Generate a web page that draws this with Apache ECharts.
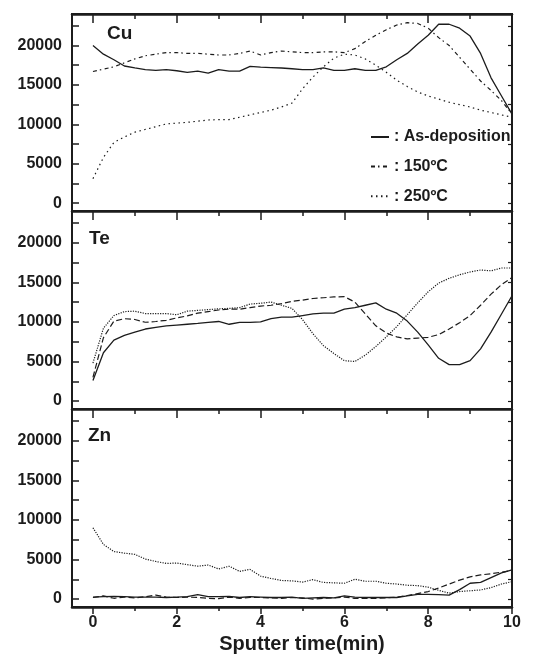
<!DOCTYPE html>
<html><head><meta charset="utf-8">
<script src="https://cdn.jsdelivr.net/npm/echarts@6/dist/echarts.min.js"></script>
<style>html,body{margin:0;padding:0;background:#fff}#c{width:537px;height:665px}</style>
</head><body><div id="c"></div>
<script>
// sputter time (min)
const times = [0,0.25,0.5,0.75,1,1.25,1.5,1.75,2,2.25,2.5,2.75,3,3.25,3.5,3.75,4,4.25,4.5,4.75,5,5.25,5.5,5.75,6,6.25,6.5,6.75,7,7.25,7.5,7.75,8,8.25,8.5,8.75,9,9.25,9.5,9.75,10];
const seriesNames = ['As-deposition','150\u00baC','250\u00baC'];
const panelNames = ['Cu','Te','Zn'];
// Cu
const cuAs  = [20000,18900,18200,17400,17150,16950,16850,16950,16800,16600,16750,16500,16950,16750,16750,17350,17250,17200,17150,17050,16950,16950,17150,16850,16850,17050,16850,16850,17300,18200,19000,20200,21300,22700,22700,22200,21200,19000,15900,13600,11300];
const cu150 = [16700,17000,17300,17800,18300,18700,18900,19100,19100,19000,19000,18900,18800,18800,19000,19300,18800,19100,19300,19200,19100,19100,19200,19200,19100,19600,20500,21300,22000,22600,22900,22800,22200,21000,20000,18500,17000,15500,14300,13000,11300];
const cu250 = [3100,5800,7700,8400,9000,9350,9700,10050,10150,10250,10400,10550,10600,10600,10900,11200,11500,11800,12200,12700,14500,16000,17300,18400,18900,18800,18300,17500,16600,15600,14800,14100,13600,13200,12800,12500,12200,11800,11500,11200,10900];
// Te
const teAs  = [2600,6100,7700,8300,8700,9100,9300,9500,9600,9700,9800,9950,10050,9700,9950,9950,10000,10400,10600,10600,10800,11000,11100,11100,11600,11800,12100,12400,11600,11100,10100,8700,7100,5400,4600,4600,5100,6600,8700,11000,13300];
const te150 = [3000,8000,10100,10400,10300,9950,10050,10200,10500,10750,11100,11300,11500,11600,11600,11800,12000,12100,12300,12600,12750,12950,13050,13150,13180,12500,11000,9500,8600,8100,7850,7950,8050,8400,9100,9900,10800,12100,13500,14700,15600];
const te250 = [4800,9200,10800,11300,11350,11050,11050,11050,10900,11350,11450,11550,11650,11700,11800,12250,12350,12500,12100,11700,10300,8500,7000,6000,5100,5000,5800,6900,8100,9400,10900,12400,13800,14900,15500,15950,16300,16550,16450,16800,16800];
// Zn
const znAs  = [250,300,350,300,250,250,250,200,250,300,550,300,300,350,200,300,250,200,200,250,100,150,200,150,400,250,200,200,200,200,400,600,600,550,500,1200,2000,2100,2700,3300,3700];
const zn150 = [200,400,100,250,150,300,500,250,200,250,200,100,50,250,100,200,200,150,100,200,150,0,100,150,250,100,100,100,150,250,450,700,950,1400,1900,2400,2800,3050,3200,3400,3600];
const zn250 = [9000,6900,6000,5800,5650,5050,4750,4500,4550,4350,4150,4300,3800,4150,3500,3750,2900,2600,2350,2300,2150,2450,2100,2050,2000,2500,2250,2250,2000,1900,1750,1700,1500,1100,750,950,1050,1150,1450,1900,2200];
// ticks
const xMajorTicks = [0,2,4,6,8,10];
const xMinorTicks = [1,3,5,7,9];
const yLabelTicks = [0,5000,10000,15000,20000];
const yAllTicks = [0,2500,5000,7500,10000,12500,15000,17500,20000,22500];

const panels = [[cuAs,cu150,cu250],[teAs,te150,te250],[znAs,zn150,zn250]];

const FONT = '"Liberation Sans", Arial, sans-serif';
const INK = '#1c1c1c';

const gridBoxes = [
  {left:72, top:14, width:440, height:197},
  {left:72, top:211, width:440, height:198},
  {left:72, top:409, width:440, height:198}
];
const grid = gridBoxes.map(g => Object.assign({show:true, borderColor:INK, borderWidth:2, backgroundColor:'transparent'}, g));

const labelStyle = {fontFamily:FONT, fontWeight:'bold', fontSize:16, color:INK, formatter: v => String(v)};

const xAxis = [];
const yAxis = [];
gridBoxes.forEach((g, gi) => {
  xAxis.push({type:'value', gridIndex:gi, position:'top', min:-0.5, max:10,
    axisLine:{show:true, onZero:false, lineStyle:{color:INK, width:2.5}},
    axisTick:{show:true, inside:true, length:9, customValues:xMajorTicks, lineStyle:{color:INK, width:1.5}},
    axisLabel:{show:false}, splitLine:{show:false}});
  xAxis.push({type:'value', gridIndex:gi, position:'top', min:-0.5, max:10,
    axisLine:{show:false, onZero:false},
    axisTick:{show:true, inside:true, length:5, customValues:xMinorTicks, lineStyle:{color:INK, width:1.5}},
    axisLabel:{show:false}, splitLine:{show:false}});
  yAxis.push({type:'value', gridIndex:gi, position:'left', min:-1000, max:24000,
    axisLine:{show:true, onZero:false, lineStyle:{color:INK, width:2}},
    axisTick:{show:true, inside:true, length:7, customValues:yAllTicks, lineStyle:{color:INK, width:1.5}},
    axisLabel:Object.assign({show:true, margin:10, customValues:yLabelTicks}, labelStyle),
    splitLine:{show:false}});
  yAxis.push({type:'value', gridIndex:gi, position:'right', min:-1000, max:24000,
    axisLine:{show:true, onZero:false, lineStyle:{color:INK, width:2}},
    axisTick:{show:true, inside:true, length:4, customValues:yAllTicks, lineStyle:{color:INK, width:1.2}},
    axisLabel:{show:false}, splitLine:{show:false}});
});
xAxis.push({type:'value', gridIndex:2, position:'bottom', min:-0.5, max:10,
  axisLine:{show:true, onZero:false, lineStyle:{color:INK, width:2.5}},
  axisTick:{show:true, inside:false, length:7, customValues:xMajorTicks, lineStyle:{color:INK, width:1.5}},
  axisLabel:Object.assign({show:true, margin:8, customValues:xMajorTicks}, labelStyle),
  name:'Sputter time(min)', nameLocation:'middle', nameGap:27,
  nameTextStyle:{fontFamily:FONT, fontWeight:'bold', fontSize:20, color:INK, padding:[0,0,0,20]},
  splitLine:{show:false}});
xAxis.push({type:'value', gridIndex:2, position:'bottom', min:-0.5, max:10,
  axisLine:{show:false, onZero:false},
  axisTick:{show:true, inside:false, length:4, customValues:xMinorTicks, lineStyle:{color:INK, width:1.5}},
  axisLabel:{show:false}, splitLine:{show:false}});

const dashStyles = [
  ['solid','solid','solid'],
  [[4,3,1.5,3.5],[6,3],[6,3]],
  [[1.5,3.5],[1.2,1.3],[1.2,1.3]]
];

const series = [];
panels.forEach((arrs, gi) => {
  arrs.forEach((vals, si) => {
    series.push({
      type:'line', name:seriesNames[si], xAxisIndex:2*gi, yAxisIndex:2*gi,
      data: times.map((t, i) => [t, vals[i]]),
      showSymbol:false, symbol:'none', silent:true, animation:false,
      color: INK, itemStyle:{color:INK},
      lineStyle:{color:INK, width: si===0 ? 1.3 : 1.2, type: dashStyles[si][gi]}
    });
  });
});

const titles = [
  {text:panelNames[0], left:107, top:24},
  {text:panelNames[1], left:89, top:229},
  {text:panelNames[2], left:88, top:426}
].map(t => Object.assign({padding:0, textStyle:{fontFamily:FONT, fontWeight:'bold', fontSize:19, color:INK}}, t));

const chart = echarts.init(document.getElementById('c'));
chart.setOption({
  animation:false,
  backgroundColor:'#fff',
  title: titles,
  grid, xAxis, yAxis, series,
  legend:{data:seriesNames, orient:'vertical', left:370, top:129, itemWidth:18, itemHeight:16, itemGap:13.6,
    padding:0, selectedMode:false, formatter: n => ': ' + n,
    itemStyle:{opacity:0},
    textStyle:{fontFamily:FONT, fontWeight:'bold', fontSize:16, color:INK}}
});
</script></body></html>
